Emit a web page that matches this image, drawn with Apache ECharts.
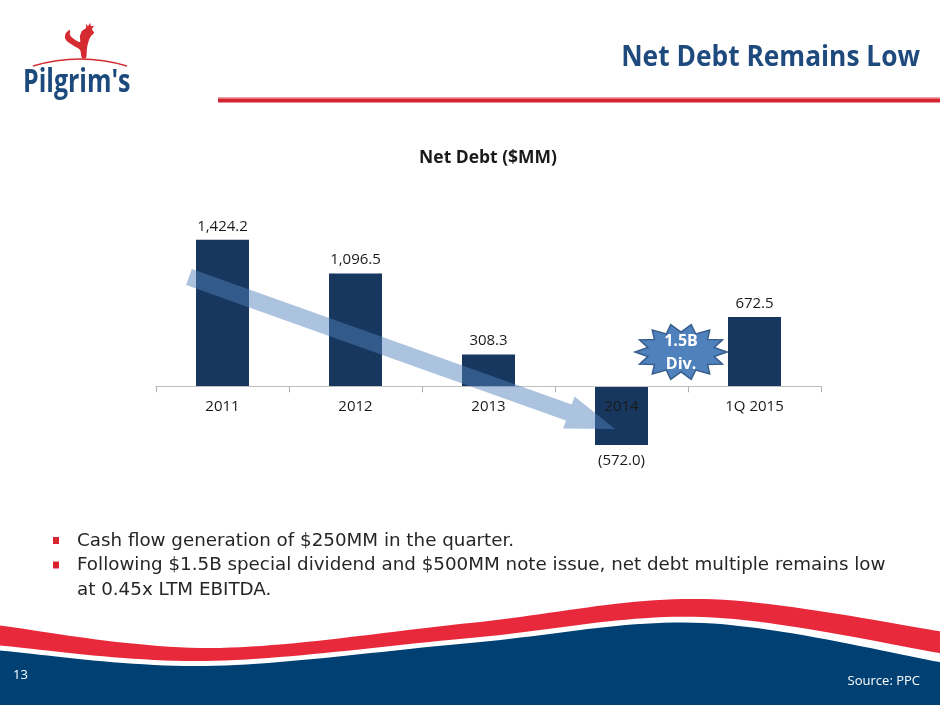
<!DOCTYPE html>
<html lang="en">
<head>
    <meta charset="UTF-8">
    <title>Net Debt Remains Low</title>
    <style>
        html,body{margin:0;padding:0;background:#fff;}
        #slide{width:940px;height:705px;}
    </style>
</head>
<body>
<div id="slide"></div>
<script src="https://cdn.jsdelivr.net/npm/echarts@6/dist/echarts.min.js"></script>
<script>
    // chart data
    var categories = ['2011', '2012', '2013', '2014', '1Q 2015'];
    var netDebt = [1424.2, 1096.5, 308.3, -572.0, 672.5];
    var yMin = -600, yMax = 1500;

    // slide text
    var slideTitle = 'Net Debt Remains Low';
    var chartTitle = 'Net Debt ($MM)';
    var bullets = [
        ['Cash flow generation of $250MM in the quarter.'],
        ['Following $1.5B special dividend and $500MM note issue, net debt multiple remains low', 'at 0.45x LTM EBITDA.']
    ];

    var navy = '#17375e';
    var red = '#e8293b';
    var footBlue = '#004073';
    var gridTop = 232, gridBottom = 257;
    var gridH = 705 - gridTop - gridBottom;

    function fmt(v) {
        var s = Math.abs(v).toLocaleString('en-US', {minimumFractionDigits: 1, maximumFractionDigits: 1});
        return v < 0 ? '(' + s + ')' : s;
    }

    // smooth outline through a few control points (footer wave), sampled for a polygon
    function curve(pts) {
        var out = [];
        for (var i = 0; i < pts.length - 1; i++) {
            var p0 = pts[i - 1] || pts[i], p1 = pts[i], p2 = pts[i + 1], p3 = pts[i + 2] || p2;
            var c1 = [p1[0] + (p2[0] - p0[0]) / 6, p1[1] + (p2[1] - p0[1]) / 6];
            var c2 = [p2[0] - (p3[0] - p1[0]) / 6, p2[1] - (p3[1] - p1[1]) / 6];
            for (var k = 0; k < 24; k++) {
                var t = k / 24, m = 1 - t;
                out.push([
                    m * m * m * p1[0] + 3 * m * m * t * c1[0] + 3 * m * t * t * c2[0] + t * t * t * p2[0],
                    m * m * m * p1[1] + 3 * m * m * t * c1[1] + 3 * m * t * t * c2[1] + t * t * t * p2[1]
                ]);
            }
        }
        out.push(pts[pts.length - 1]);
        return out;
    }

    var redTop = [[-5, 625], [210, 648], [470, 623], [703, 599], [945, 632]];
    var redBot = [[-5, 645], [205, 661], [470, 638], [703, 617], [945, 654]];
    var blueTop = [[-5, 650], [205, 666], [470, 643], [703, 623], [945, 663]];

    var redShape = curve(redTop).concat(curve(redBot).reverse());
    var blueShape = curve(blueTop).concat([[945, 710], [-5, 710]]);

    // starburst
    function star(cx, cy, n, rx1, ry1, rx2, ry2) {
        var pts = [];
        for (var i = 0; i < n * 2; i++) {
            var a = Math.PI * i / n;
            var o = i % 2 === 0;
            pts.push([cx + Math.cos(a) * (o ? rx1 : rx2), cy + Math.sin(a) * (o ? ry1 : ry2)]);
        }
        return pts;
    }

    // block arrow
    function arrow(x1, y1, x2, y2, hw, headLen, headHw) {
        var dx = x2 - x1, dy = y2 - y1, len = Math.sqrt(dx * dx + dy * dy);
        var ux = dx / len, uy = dy / len, nx = -uy, ny = ux;
        var bx = x2 - ux * headLen, by = y2 - uy * headLen;
        return [
            [x1 + nx * hw, y1 + ny * hw], [bx + nx * hw, by + ny * hw], [bx + nx * headHw, by + ny * headHw],
            [x2, y2],
            [bx - nx * headHw, by - ny * headHw], [bx - nx * hw, by - ny * hw], [x1 - nx * hw, y1 - ny * hw]
        ];
    }

    // rooster mark of the logo
    var rooster = [[82, 58], [80, 50], [74, 46], [68, 42], [65, 38], [66, 33], [70, 30], [70, 35], [74, 39], [80, 42],
        [80, 36], [82, 31], [86, 28], [86, 24], [88, 26], [90, 23], [91, 26], [94, 26], [92, 29], [94, 33], [91, 36],
        [89, 40], [87, 48], [86, 58]];

    var bulletEls = [];
    var ly = 541;
    bullets.forEach(function (b) {
        bulletEls.push({type: 'rect', shape: {x: 53, y: ly - 4, width: 6, height: 7}, style: {fill: '#d9242f'}});
        b.forEach(function (line) {
            bulletEls.push({type: 'text', x: 77, y: ly, style: {text: line, fontFamily: 'DejaVu Sans', fontSize: 18.3, fill: '#262626', textVerticalAlign: 'middle'}});
            ly += 24.5;
        });
    });

    var chart = echarts.init(document.getElementById('slide'));
    var option = {
        backgroundColor: '#fff',
        animation: false,
        grid: {left: 156, right: 119, top: gridTop, bottom: gridBottom},
        xAxis: {
            type: 'category',
            data: categories,
            z: 5,
            // keep the category axis on the zero line
            offset: -gridH * (0 - yMin) / (yMax - yMin),
            axisLine: {onZero: false, lineStyle: {color: '#bfbfbf', width: 1}},
            axisTick: {show: true, interval: 0, alignWithLabel: false, length: 6, lineStyle: {color: '#b0b0b0', width: 1}},
            axisLabel: {color: '#1a1a1a', fontFamily: 'Open Sans', fontSize: 15, margin: 13}
        },
        yAxis: {
            type: 'value', min: yMin, max: yMax, show: false,
            splitLine: {show: false}
        },
        series: [{
            type: 'bar',
            barWidth: 53,
            itemStyle: {color: navy},
            data: netDebt.map(function (v) {
                return {value: v, label: {position: v < 0 ? 'bottom' : 'top', distance: v < 0 ? 8 : 6}};
            }),
            label: {
                show: true, color: '#1a1a1a', fontFamily: 'Open Sans', fontSize: 15,
                formatter: function (p) { return fmt(p.value); }
            }
        }],
        graphic: [
            // header
            {type: 'text', x: 920, y: 58, scaleX: 0.94, style: {text: slideTitle, fontFamily: 'Open Sans', fontWeight: 'bold', fontSize: 28, fill: '#1f4a7e', textAlign: 'right', textVerticalAlign: 'middle'}},
            {type: 'rect', shape: {x: 218, y: 97, width: 722, height: 1.5}, style: {fill: '#eea0a4'}},
            {type: 'rect', shape: {x: 218, y: 98.5, width: 722, height: 4}, style: {fill: '#d2232f'}},
            // logo
            {type: 'polygon', shape: {points: rooster, smooth: 0.3}, style: {fill: '#d42a30'}},
            {type: 'bezierCurve', shape: {x1: 33, y1: 66, x2: 127, y2: 66, cpx1: 80, cpy1: 52}, style: {stroke: '#d42a30', lineWidth: 1.6, fill: null}},
            {type: 'text', x: 23, y: 83, scaleX: 0.78, style: {text: "Pilgrim's", fontFamily: 'Open Sans', fontWeight: 'bold', fontSize: 32, fill: '#1d4a7c', textVerticalAlign: 'middle'}},
            // chart title
            {type: 'text', x: 488, y: 158, scaleX: 0.97, style: {text: chartTitle, fontFamily: 'Open Sans', fontWeight: 'bold', fontSize: 18, fill: '#1a1a1a', textAlign: 'center', textVerticalAlign: 'middle'}},
            // trend arrow
            {type: 'polygon', z: 10, shape: {points: arrow(189, 277, 615, 429, 8.5, 49, 17)}, style: {fill: 'rgba(79,129,189,0.48)'}},
            // dividend starburst
            {type: 'polygon', z: 11, shape: {points: star(681, 352, 14, 46, 28, 34, 20)}, style: {fill: '#4f81bd', stroke: '#385d8a', lineWidth: 1.5}},
            {type: 'text', z: 12, x: 681, y: 341, style: {text: '1.5B', fontFamily: 'Open Sans', fontWeight: 'bold', fontSize: 16, fill: '#fff', textAlign: 'center', textVerticalAlign: 'middle'}},
            {type: 'text', z: 12, x: 681, y: 364, style: {text: 'Div.', fontFamily: 'Open Sans', fontWeight: 'bold', fontSize: 16, fill: '#fff', textAlign: 'center', textVerticalAlign: 'middle'}},
            // footer
            {type: 'polygon', shape: {points: redShape}, style: {fill: red}},
            {type: 'polygon', shape: {points: blueShape}, style: {fill: footBlue}},
            {type: 'text', z: 5, x: 13, y: 675, style: {text: '13', fontFamily: 'Open Sans', fontSize: 13, fill: '#fff', textVerticalAlign: 'middle'}},
            {type: 'text', z: 5, x: 920, y: 681, style: {text: 'Source: PPC', fontFamily: 'Open Sans', fontSize: 13, fill: '#fff', textAlign: 'right', textVerticalAlign: 'middle'}}
        ].concat(bulletEls)
    };
    chart.setOption(option);
</script>
</body>
</html>
